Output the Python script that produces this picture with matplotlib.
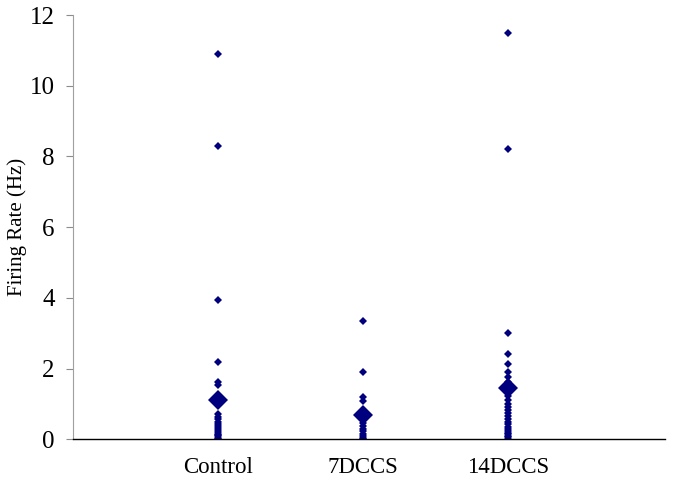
import matplotlib
matplotlib.use("Agg")
import matplotlib.pyplot as plt

# ---------- DATA ------------
groups = ["Control", "7DCCS", "14DCCS"]
group_pos = [1, 2, 3]

control = [10.9, 8.3, 3.93, 2.2, 1.61, 1.53, 0.72, 0.64, 0.56, 0.49, 0.43, 0.37,
           0.31, 0.26, 0.21, 0.16, 0.12, 0.08, 0.05, 0.02]
dccs7 = [3.35, 1.9, 1.2, 1.07, 0.55, 0.46, 0.38, 0.3, 0.23, 0.16, 0.1, 0.05, 0.02]
dccs14 = [11.5, 8.2, 3.02, 2.42, 2.12, 1.9, 1.75, 1.62, 1.22, 1.1, 1.0, 0.9, 0.82,
          0.74, 0.66, 0.58, 0.5, 0.43, 0.36, 0.3, 0.24, 0.19, 0.14, 0.1, 0.06, 0.02]
means = [1.1, 0.68, 1.45]
# -----------------------------

plt.rcParams['font.family'] = ['Liberation Serif', 'DejaVu Serif']
c = "#00007F"

fig = plt.figure(figsize=(6.74, 4.87), dpi=100)
ax = fig.add_axes([0.108, 0.098, 0.879, 0.871])

for x, vals in zip(group_pos, [control, dccs7, dccs14]):
    ax.plot([x] * len(vals), vals, 'D', color=c, markersize=4.5, markeredgewidth=0)
ax.plot(group_pos, means, 'D', color=c, markersize=10.5, markeredgewidth=0)

ax.set_xlim(0, 4.08)
ax.set_ylim(0, 12)
ax.set_yticks(range(0, 13, 2))
ax.set_xticks(group_pos)
ax.set_xticklabels(groups, fontsize=16.5)
ax.tick_params(axis='x', length=0, pad=13)
ax.tick_params(axis='y', labelsize=18, length=5, color="#8C8C8C", pad=8)

for s in ["top", "right"]:
    ax.spines[s].set_visible(False)
ax.spines["left"].set_color("#A0A0A0")
ax.spines["bottom"].set_color("#000000")
ax.spines["bottom"].set_linewidth(1.0)
ax.set_ylabel("Firing Rate (Hz)", fontsize=15, labelpad=2)

fig.savefig("out.png", dpi=100)
